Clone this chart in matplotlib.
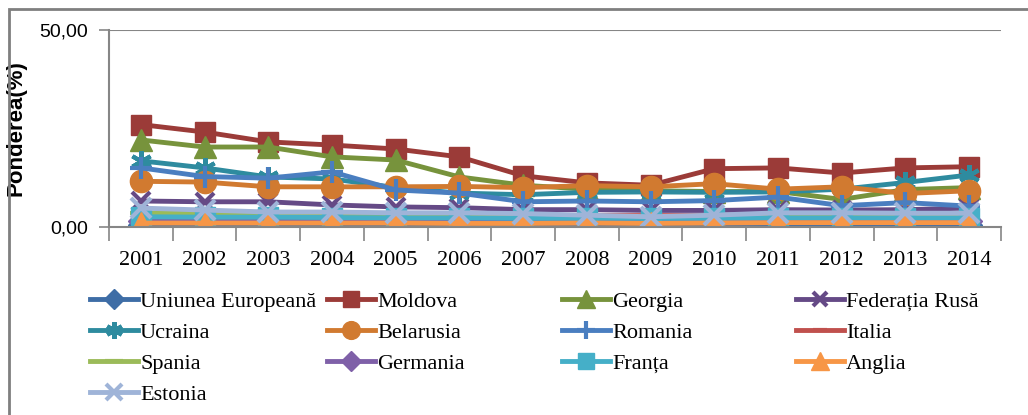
import numpy as np
import matplotlib
matplotlib.use("Agg")
import matplotlib.pyplot as plt
from matplotlib.patches import Rectangle
from matplotlib.ticker import FuncFormatter

years = ['2001', '2002', '2003', '2004', '2005', '2006', '2007',
         '2008', '2009', '2010', '2011', '2012', '2013', '2014']

# ponderea (%) pe tari
ue = [0.6, 0.6, 0.6, 0.6, 0.5, 0.5, 0.5, 0.5, 0.5, 0.5, 0.5, 0.5, 0.5, 0.5]
moldova = [26.0, 24.1, 21.6, 20.8, 19.8, 17.8, 13.0, 11.2, 10.6, 14.8, 15.0, 13.7, 15.0, 15.3]
georgia = [22.1, 20.3, 20.3, 17.8, 17.0, 12.7, 10.6, 9.6, 9.2, 9.0, 9.0, 7.0, 9.5, 10.0]
fed_rusa = [6.6, 6.4, 6.4, 5.6, 5.1, 4.9, 4.4, 4.4, 4.2, 4.2, 4.4, 4.3, 4.4, 4.8]
ucraina = [16.8, 15.0, 12.7, 12.2, 10.0, 8.6, 8.2, 8.8, 8.9, 8.8, 8.9, 9.6, 11.3, 13.2]
belarusia = [11.6, 11.4, 10.2, 10.2, 10.2, 10.3, 10.0, 10.5, 10.2, 11.0, 9.6, 10.2, 8.5, 9.2]
romania = [15.0, 12.8, 12.4, 14.0, 9.4, 8.6, 6.4, 6.6, 6.4, 6.7, 7.6, 5.4, 6.2, 5.3]
italia = [3.3, 3.2, 3.1, 3.0, 3.0, 2.9, 2.9, 2.9, 2.9, 2.9, 2.9, 2.9, 2.9, 2.9]
spania = [3.6, 3.5, 3.4, 3.2, 3.0, 2.8, 2.6, 2.5, 2.4, 2.4, 2.6, 2.5, 2.5, 2.5]
germania = [1.6, 1.6, 1.5, 1.5, 1.4, 1.4, 1.4, 1.4, 1.3, 1.3, 1.4, 1.4, 1.4, 1.4]
franta = [2.6, 2.5, 2.5, 2.4, 2.3, 2.3, 2.2, 2.2, 2.2, 2.2, 2.3, 2.3, 2.3, 2.3]
anglia = [1.0, 1.0, 1.0, 1.0, 1.0, 0.9, 0.9, 1.0, 0.9, 1.0, 1.1, 1.1, 1.1, 1.1]
estonia = [4.8, 4.3, 3.8, 3.8, 3.6, 3.6, 3.4, 3.0, 2.6, 3.0, 3.6, 3.6, 3.5, 3.5]

labels = ['Uniunea Europeană', 'Moldova', 'Georgia', 'Federația Rusă',
          'Ucraina', 'Belarusia', 'Romania', 'Italia',
          'Spania', 'Germania', 'Franța', 'Anglia', 'Estonia']
series = [ue, moldova, georgia, fed_rusa, ucraina, belarusia, romania,
          italia, spania, germania, franta, anglia, estonia]
colors = ['#3E6DA6', '#9B3B38', '#77933C', '#654A86', '#2E8B9F', '#D17A30',
          '#4A7EC0', '#C0504D', '#9BBB59', '#7F60A8', '#45AFC8', '#F79646',
          '#9FB4D8']
markers = ['D', 's', '^', 'x', (6, 2, 0), 'o', '+', '_', '_', 'D', 's', '^', 'x']
msizes = [13, 15, 16, 13, 15, 16, 16, 12, 16, 13, 15, 16, 14]

fig = plt.figure(figsize=(10.28, 4.15), dpi=100)
ax = fig.add_axes([109 / 1028, 1 - 227 / 415, 892 / 1028, 197 / 415])

x = np.arange(len(years))
handles = []
for vals, lab, c, m, ms in zip(series, labels, colors, markers, msizes):
    line, = ax.plot(x, vals, color=c, lw=3.5, marker=m, markersize=ms,
                    markeredgewidth=3 if m in ('x', '+', (6, 2, 0), '_') else 1,
                    markerfacecolor=c, markeredgecolor=c, label=lab,
                    solid_joinstyle='round')
    handles.append(line)

ax.set_xlim(-0.5, len(years) - 0.5)
ax.set_ylim(0, 50)
ax.set_yticks([0, 50])
ax.yaxis.set_major_formatter(FuncFormatter(lambda v, p: f'{v:.2f}'.replace('.', ',')))
ax.set_xticks(x)
ax.set_xticklabels(years, fontfamily='Liberation Serif', fontsize=16)
ax.set_xticks(np.arange(-0.5, len(years)), minor=True)
ax.tick_params(axis='x', which='major', length=0, pad=17)
ax.tick_params(axis='x', which='minor', length=10, width=1.2, color='#868686')
ax.tick_params(axis='y', length=7, width=1.2, color='#868686', pad=8,
               labelsize=14)
for lab in ax.get_yticklabels():
    lab.set_fontfamily('Liberation Sans')

ax.axhline(50, color='#868686', lw=1.5, zorder=0.5)
for s in ['top', 'right']:
    ax.spines[s].set_visible(False)
for s in ['left', 'bottom']:
    ax.spines[s].set_color('#868686')
    ax.spines[s].set_linewidth(1.5)

ax.set_ylabel('Ponderea(%)', fontfamily='Liberation Sans', fontweight='bold',
              fontsize=16)
ax.yaxis.set_label_coords(-0.092, 0.5)

# legenda pe coloane, ca in Excel (randurile se completeaza pe orizontala)
col_x = [90, 327, 562, 796]
for ci, cx in enumerate(col_x):
    idx = list(range(ci, len(labels), 4))
    fig.legend([handles[i] for i in idx], [labels[i] for i in idx],
               loc='upper left', bbox_to_anchor=(cx / 1028, 1 - 291 / 415),
               frameon=False, borderpad=0, borderaxespad=0,
               handlelength=2.15, handletextpad=0.1, labelspacing=0.47,
               markerscale=0.8, prop={'family': 'Liberation Serif', 'size': 16})

fig.patches.append(Rectangle((9 / 1028, -0.2), 1.2, 1.2 - 9 / 415,
                             transform=fig.transFigure, fill=False,
                             edgecolor='#7f7f7f', lw=2))

fig.savefig('out.png', dpi=100)
